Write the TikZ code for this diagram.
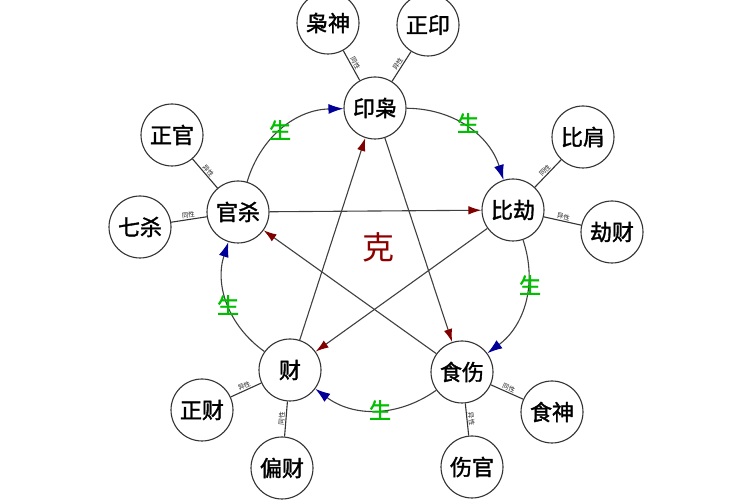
\documentclass[tikz,border=0pt]{standalone}
\usepackage{fontspec}
\newfontfamily\cjk{Noto Sans CJK SC}
\newfontfamily\cjkb{Noto Sans CJK SC}[FakeBold=1.6]
\usetikzlibrary{arrows.meta}
\begin{document}
\begin{tikzpicture}[x=1pt,y=1pt,
 wx/.style={circle,draw=black!80,line width=1.1pt,minimum size=62pt,inner sep=0pt,font=\cjkb\fontsize{22}{22}\selectfont},
 spoke/.style={draw=black!80,line width=1.1pt},
 tiny/.style={font=\cjk\fontsize{6.5}{6.5}\selectfont,sloped,midway,above,inner sep=0.8pt,text=black!85},
 sheng/.style={draw=black!75,line width=1.1pt,-{Latex[length=15pt,width=10pt,color=blue!60!black]}},
 ke/.style={draw=black!75,line width=1.1pt,-{Latex[length=13pt,width=8.5pt,color=red!50!black]}},
 shenglabel/.style={text=green!75!black,font=\cjkb\fontsize{22}{22}\selectfont},
]
\useasboundingbox (0,0) rectangle (750,500);
\fill[white] (0,0) rectangle (750,500);
% inner nodes
\node[wx] (YX) at (375,392) {印枭};
\node[wx] (BJ) at (513,290) {比劫};
\node[wx] (SS) at (462,128) {食伤};
\node[wx] (CA) at (290,130) {财};
\node[wx] (GS) at (238,288) {官杀};
% outer nodes
\node[wx] (XS) at (328,477) {枭神};
\node[wx] (ZY) at (428,475) {正印};
\node[wx] (ZG) at (172,365) {正官};
\node[wx] (QS) at (140,273) {七杀};
\node[wx] (BiJ) at (583,363) {比肩};
\node[wx] (JC) at (612,268) {劫财};
\node[wx] (ZC) at (202,90) {正财};
\node[wx] (PC) at (282,32) {偏财};
\node[wx] (SSh) at (552,88) {食神};
\node[wx] (SG) at (472,33) {伤官};
% spokes
\draw[spoke] (YX) -- (XS) node[tiny] {同性};
\draw[spoke] (YX) -- (ZY) node[tiny] {异性};
\draw[spoke] (GS) -- (ZG) node[tiny] {异性};
\draw[spoke] (GS) -- (QS) node[tiny] {同性};
\draw[spoke] (BJ) -- (BiJ) node[tiny] {同性};
\draw[spoke] (BJ) -- (JC) node[tiny] {异性};
\draw[spoke] (CA) -- (ZC) node[tiny] {异性};
\draw[spoke] (CA) -- (PC) node[tiny] {同性};
\draw[spoke] (SS) -- (SSh) node[tiny] {同性};
\draw[spoke] (SS) -- (SG) node[tiny] {异性};
% sheng cycle
\draw[sheng] (GS) to[bend left=36] (YX);
\draw[sheng] (YX) to[bend left=36] (BJ);
\draw[sheng] (BJ) to[bend left=36] (SS);
\draw[sheng] (SS) to[bend left=36] (CA);
\draw[sheng] (CA) to[bend left=36] (GS);
% ke star
\draw[ke] (GS) -- (BJ);
\draw[ke] (BJ) -- (CA);
\draw[ke] (CA) -- (YX);
\draw[ke] (YX) -- (SS);
\draw[ke] (SS) -- (GS);
% labels
\node[shenglabel] (s1) at (280,370) {生};
\node[shenglabel] (s2) at (468,377) {生};
\node[shenglabel] (s3) at (530,215) {生};
\node[shenglabel] (s4) at (380,90) {生};
\node[shenglabel] (s5) at (228,195) {生};
\node[text=red!55!black,font=\cjk\fontsize{32}{32}\selectfont] (ke) at (378,253) {克};
\end{tikzpicture}
\end{document}
